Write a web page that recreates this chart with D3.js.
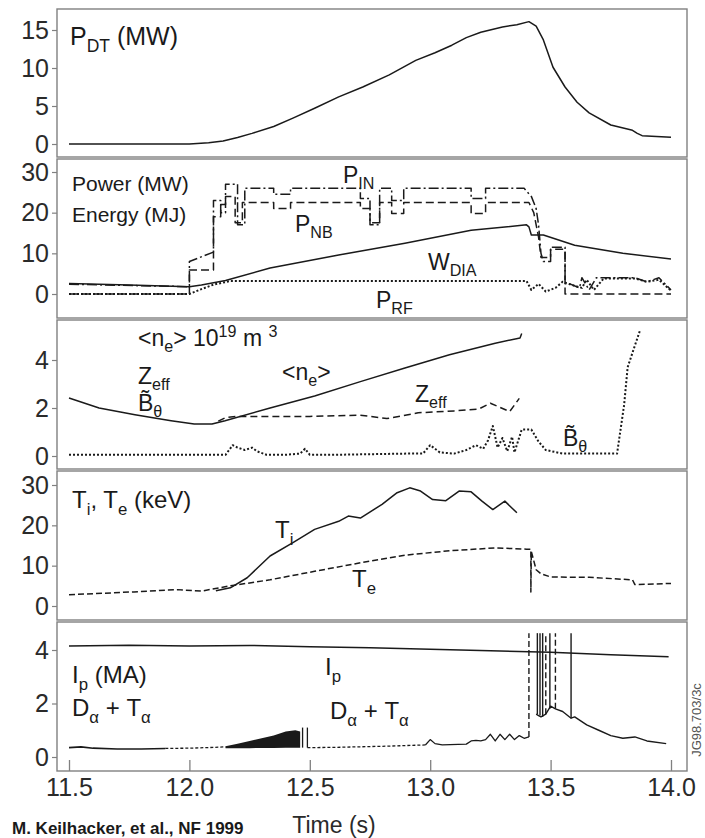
<!DOCTYPE html>
<html><head><meta charset="utf-8">
<script src="https://cdn.jsdelivr.net/npm/d3@7"></script>
<style>body{margin:0;background:#fff}</style>
</head><body><svg id="c" width="705" height="838"></svg>
<script>
// ---------- DATA ----------
const timeTicks = [11.5, 12.0, 12.5, 13.0, 13.5, 14.0];
const tickLabels = ["11.5", "12.0", "12.5", "13.0", "13.5", "14.0"];
const p1Ticks = [0, 5, 10, 15];
const p2Ticks = [0, 10, 20, 30];
const p3Ticks = [0, 2, 4];
const p4Ticks = [0, 10, 20, 30];
const p5Ticks = [0, 2, 4];

// Panel 1: P_DT (MW)
const pdt = [[11.5,0],[11.8,0],[12.0,0],[12.08,0.15],[12.14,0.4],[12.2,0.85],[12.26,1.4],[12.35,2.3],[12.43,3.4],[12.52,4.7],[12.62,6.2],[12.72,7.5],[12.83,9.1],[12.94,11.0],[13.02,12.0],[13.09,13.0],[13.15,14.0],[13.21,14.7],[13.3,15.4],[13.36,15.7],[13.41,16.1],[13.44,15.5],[13.47,13.7],[13.51,10.1],[13.56,7.5],[13.61,5.5],[13.66,4.1],[13.75,2.5],[13.84,1.8],[13.86,1.4],[13.88,1.1],[13.94,1.0],[14.0,0.9]];

// Panel 2: Power (MW) / Energy (MJ)
const wdia = [[11.5,2.6],[11.75,2.2],[12.0,1.8],[12.05,2.2],[12.15,3.3],[12.335,6.4],[12.62,9.6],[12.895,12.5],[13.17,15.7],[13.4,17.0],[13.41,16.5],[13.42,14.5],[13.47,14.5],[13.6,12],[13.8,10],[14.0,8.6]];
const pin = [[11.5,2.4],[12.0,1.8],[12.0,8.0],[12.10,10.3],[12.10,23],[12.13,23],[12.13,20],[12.15,20],[12.15,27],[12.20,27],[12.20,17],[12.23,17],[12.23,26],[12.35,26],[12.35,24.5],[12.42,24.5],[12.42,26],[12.71,26],[12.71,23.5],[12.75,23.5],[12.75,17],[12.79,17],[12.79,26],[12.84,26],[12.84,23],[12.89,23],[12.89,26],[13.17,26],[13.17,23.5],[13.23,23.5],[13.23,26],[13.39,26],[13.42,24],[13.44,21],[13.45,17],[13.46,10],[13.47,8],[13.50,8],[13.50,11.5],[13.56,11.5],[13.56,2.5],[13.58,2.5],[13.62,1.5],[13.63,4],[13.66,1],[13.69,4],[13.75,4],[13.85,4],[13.9,3],[13.95,4],[14.0,1]];
const pnb = [[11.5,0],[12.0,0],[12.0,5.9],[12.10,5.9],[12.10,19],[12.13,19],[12.13,22],[12.15,22],[12.15,24],[12.19,24],[12.19,17.5],[12.22,17.5],[12.22,22.5],[12.35,22.5],[12.35,21],[12.42,21],[12.42,22.5],[12.71,22.5],[12.71,21],[12.75,21],[12.75,17.5],[12.79,17.5],[12.79,22.5],[12.84,22.5],[12.84,19.8],[12.89,19.8],[12.89,22.5],[13.17,22.5],[13.17,19.8],[13.23,19.8],[13.23,22.5],[13.41,22.5],[13.43,20],[13.45,14],[13.46,9],[13.5,9],[13.5,11],[13.56,11],[13.56,0],[14.0,0]];
const prf = [[11.5,0],[12.0,0],[12.05,1.2],[12.1,2.3],[12.17,3.2],[13.4,3.2],[13.42,1],[13.45,2.5],[13.48,0.6],[13.52,1.5],[13.55,3],[13.6,2],[13.63,1.5],[13.65,3.5],[13.68,1],[13.72,3.8],[13.85,3.8],[13.9,3],[13.95,3.5],[14.0,0.8]];

// Panel 3: <n_e>, Z_eff, B~theta
const ne = [[11.5,2.42],[11.625,2.0],[11.774,1.72],[11.924,1.47],[12.02,1.33],[12.094,1.33],[12.148,1.47],[12.335,2.0],[12.52,2.5],[12.71,3.1],[12.895,3.67],[13.08,4.22],[13.27,4.7],[13.373,4.92],[13.38,5.1]];
const zeff = [[12.12,1.45],[12.15,1.6],[12.2,1.65],[12.5,1.65],[12.71,1.7],[12.82,1.56],[12.95,1.8],[13.1,1.88],[13.2,1.95],[13.25,2.2],[13.33,1.85],[13.37,2.4]];
const btheta = [[11.5,0.05],[12.15,0.05],[12.18,0.45],[12.2,0.35],[12.23,0.25],[12.26,0.35],[12.28,0.2],[12.32,0.05],[12.4,0.05],[12.46,0.1],[12.48,0.3],[12.5,0.05],[12.6,0.05],[12.9,0.1],[12.97,0.1],[13.0,0.45],[13.04,0.15],[13.1,0.1],[13.15,0.25],[13.19,0.45],[13.22,0.3],[13.24,0.65],[13.26,1.25],[13.28,0.35],[13.3,0.75],[13.32,0.2],[13.34,0.8],[13.35,0.15],[13.38,1.1],[13.42,1.1],[13.45,0.6],[13.48,0.25],[13.55,0.1],[13.776,0.1],[13.805,2.1],[13.82,3.7],[13.87,5.2]];

// Panel 4: T_i, T_e (keV)
const ti = [[12.11,3.8],[12.17,4.5],[12.24,7.0],[12.335,12.4],[12.43,15.7],[12.52,19.0],[12.62,21.0],[12.66,22.3],[12.71,21.8],[12.80,25.2],[12.86,28.0],[12.915,29.3],[12.96,28.5],[13.01,26.4],[13.065,26.1],[13.12,28.5],[13.17,28.3],[13.215,26.0],[13.26,23.9],[13.31,26.0],[13.36,23.1]];
const te = [[11.5,2.8],[11.77,3.5],[11.95,4.06],[12.05,3.7],[12.16,4.9],[12.335,6.5],[12.52,8.6],[12.71,10.7],[12.895,12.6],[13.08,13.7],[13.27,14.4],[13.4,14.1],[13.418,14.1],[13.418,3.5],[13.42,13.5],[13.44,9],[13.46,8],[13.5,7.2],[13.66,7.1],[13.84,6.5],[13.85,5.3],[14.0,5.6]];

// Panel 5: I_p (MA), D_alpha + T_alpha
const ip = [[11.5,4.15],[11.75,4.18],[12.0,4.15],[12.25,4.17],[12.5,4.12],[12.75,4.08],[13.0,4.03],[13.25,3.97],[13.5,3.92],[13.75,3.82],[13.99,3.75]];
const daSolid1 = [[11.5,0.35],[11.55,0.38],[11.6,0.33],[11.7,0.3],[11.8,0.3],[11.9,0.32]];
const daDash1 = [[11.9,0.32],[12.0,0.33],[12.1,0.36],[12.15,0.38]];
const daBandT = [12.15,12.2,12.25,12.3,12.35,12.4,12.44,12.46];
const daBandHi = [0.4,0.5,0.6,0.7,0.8,0.95,1.0,0.95];
const daBandLo = [0.33,0.33,0.33,0.34,0.34,0.35,0.35,0.35];
const daBurstT = [12.47, 12.49];
const daBurstTop = [1.1, 1.1];
const daDash2 = [[12.49,0.35],[12.6,0.36],[12.8,0.4],[12.98,0.45]];
const daSolid2 = [[12.98,0.45],[13.0,0.65],[13.02,0.5],[13.05,0.45],[13.15,0.48],[13.17,0.6],[13.19,0.62],[13.21,0.6],[13.23,0.65],[13.25,0.85],[13.27,0.6],[13.29,0.85],[13.31,0.65],[13.33,0.85],[13.35,0.65],[13.37,0.8],[13.39,0.7],[13.41,0.75]];
const daAfter = [[13.44,1.6],[13.45,1.55],[13.46,1.5],[13.48,1.6],[13.5,1.9],[13.52,1.8],[13.55,1.7],[13.585,1.45],[13.6,1.5],[13.65,1.2],[13.7,1.0],[13.75,0.8],[13.8,0.7],[13.85,0.75],[13.9,0.6],[13.98,0.5]];
const elmSolidT = [13.445, 13.456, 13.467, 13.497, 13.585];
const elmSolidBase = [1.6, 1.55, 1.5, 1.8, 1.45];
const elmDashT = [13.41, 13.48, 13.52];
const elmDashBase = [0.75, 1.6, 1.8];
const elmTop = 4.63;

// ---------- LAYOUT ----------
const svg = d3.select("#c");
const FONT = "'Liberation Sans', Arial, Helvetica, sans-serif";
const INK = "#1a1a1a";
const FRAME = "#808080";
const xL = 57, xR = 687;
const x = d3.scaleLinear().domain([11.5, 14.0]).range([69, 671]);

const panels = [
  {top: 9,   bot: 157, dom: [0, 15], rng: [144, 30],  ticks: p1Ticks},
  {top: 159, bot: 318, dom: [0, 30], rng: [294, 172], ticks: p2Ticks},
  {top: 320, bot: 469, dom: [0, 4],  rng: [456, 360], ticks: p3Ticks},
  {top: 471, bot: 620, dom: [0, 30], rng: [606, 485], ticks: p4Ticks},
  {top: 622, bot: 771, dom: [0, 4],  rng: [757, 650], ticks: p5Ticks}
];
panels.forEach((p, i) => {
  p.y = d3.scaleLinear().domain(p.dom).range(p.rng);
  svg.append("clipPath").attr("id", "cp" + i).append("rect")
    .attr("x", xL).attr("y", p.top).attr("width", xR - xL).attr("height", p.bot - p.top);
  p.g = svg.append("g").attr("clip-path", `url(#cp${i})`);
  svg.append("rect").attr("x", xL).attr("y", p.top).attr("width", xR - xL).attr("height", p.bot - p.top)
    .attr("fill", "none").attr("stroke", FRAME).attr("stroke-width", 1.4);
  const ax = svg.append("g").attr("transform", `translate(${xL},0)`)
    .call(d3.axisLeft(p.y).tickValues(p.ticks).tickSize(5).tickPadding(3).tickFormat(d3.format("d")));
  ax.select(".domain").remove();
  ax.selectAll("line").attr("stroke", FRAME).attr("stroke-width", 1.2);
  ax.selectAll("text").attr("font-family", FONT).attr("font-size", 25).attr("fill", "#2a2a2a");
});

// bottom time axis (ticks inward)
const xa = svg.append("g").attr("transform", `translate(0,${panels[4].bot})`)
  .call(d3.axisBottom(x).tickValues(timeTicks).tickSize(-11).tickPadding(7)
    .tickFormat((d, i) => tickLabels[i]));
xa.select(".domain").remove();
xa.selectAll("line").attr("stroke", FRAME).attr("stroke-width", 1.3);
xa.selectAll("text").attr("font-family", FONT).attr("font-size", 25).attr("fill", "#2a2a2a");

function draw(p, data, dash, w) {
  const ln = d3.line().x(d => x(d[0])).y(d => p.y(d[1]));
  p.g.append("path").datum(data).attr("d", ln).attr("fill", "none")
    .attr("stroke", INK).attr("stroke-width", w || 1.5)
    .attr("stroke-dasharray", dash || null).attr("stroke-linejoin", "round");
}
const [P1, P2, P3, P4, P5] = panels;
draw(P1, pdt);
draw(P2, wdia);
draw(P2, pin, "10,3,2,3", 1.5);
draw(P2, pnb, "8,4", 1.5);
draw(P2, prf, "2,2", 2);
draw(P3, ne);
draw(P3, zeff, "7,4", 1.5);
draw(P3, btheta, "2,2", 2);
draw(P4, ti);
draw(P4, te, "6,3", 1.5);
draw(P5, ip);
draw(P5, daSolid1, null, 1.6);
draw(P5, daDash1, "3,2", 1.3);
P5.g.append("path").datum(daBandT.map((t, i) => [t, daBandLo[i], daBandHi[i]]))
  .attr("d", d3.area().x(d => x(d[0])).y0(d => P5.y(d[1])).y1(d => P5.y(d[2])))
  .attr("fill", INK);
daBurstT.forEach((t, i) => draw(P5, [[t, 0.35], [t, daBurstTop[i]]], null, 1.3));
draw(P5, daDash2, "3,2", 1.3);
draw(P5, daSolid2, null, 1.3);
draw(P5, daAfter, null, 1.4);
elmSolidT.forEach((t, i) => draw(P5, [[t, elmSolidBase[i]], [t, elmTop]], null, 1.4));
elmDashT.forEach((t, i) => draw(P5, [[t, elmDashBase[i]], [t, elmTop]], "6,3", 1.4));

// ---------- TEXT ----------
function label(px, py, parts, size) {
  const t = svg.append("text").attr("x", px).attr("y", py)
    .attr("font-family", FONT).attr("font-size", size).attr("fill", INK);
  let off = 0;
  parts.forEach(([s, k]) => {
    const target = k === "sub" ? size * 0.28 : k === "sup" ? -size * 0.4 : 0;
    t.append("tspan").attr("dy", target - off)
      .attr("font-size", k === "n" ? size : size * 0.7).text(s);
    off = target;
  });
  return t;
}
label(70, 45, [["P", "n"], ["DT", "sub"], [" (MW)", "n"]], 25);
label(72, 191, [["Power (MW)", "n"]], 21);
label(72, 222, [["Energy (MJ)", "n"]], 21);
label(343, 183, [["P", "n"], ["IN", "sub"]], 23);
label(295, 232, [["P", "n"], ["NB", "sub"]], 23);
label(428, 270, [["W", "n"], ["DIA", "sub"]], 23);
label(376, 308, [["P", "n"], ["RF", "sub"]], 23);

label(138, 346, [["<n", "n"], ["e", "sub"], ["> 10", "n"], ["19", "sup"], [" m ", "n"], ["3", "sup"]], 23);
label(138, 384, [["Z", "n"], ["eff", "sub"]], 23);
label(138, 411, [["B\u0303", "n"], ["\u03b8", "sub"]], 23);
label(282, 380, [["<n", "n"], ["e", "sub"], [">", "n"]], 23);
label(415, 402, [["Z", "n"], ["eff", "sub"]], 23);
label(563, 446, [["B\u0303", "n"], ["\u03b8", "sub"]], 23);

label(72, 508, [["T", "n"], ["i", "sub"], [", T", "n"], ["e", "sub"], [" (keV)", "n"]], 24);
label(275, 538, [["T", "n"], ["i", "sub"]], 24);
label(352, 587, [["T", "n"], ["e", "sub"]], 24);

label(72, 683, [["I", "n"], ["p", "sub"], [" (MA)", "n"]], 24);
label(72, 716, [["D", "n"], ["\u03b1", "sub"], [" + T", "n"], ["\u03b1", "sub"]], 24);
label(325, 675, [["I", "n"], ["p", "sub"]], 24);
label(330, 719, [["D", "n"], ["\u03b1", "sub"], [" + T", "n"], ["\u03b1", "sub"]], 24);

svg.append("text").attr("x", 334).attr("y", 833).attr("text-anchor", "middle")
  .attr("font-family", FONT).attr("font-size", 23).attr("fill", "#2a2a2a").text("Time (s)");
svg.append("text").attr("x", 12).attr("y", 834)
  .attr("font-family", FONT).attr("font-size", 17).attr("font-weight", "bold").attr("fill", INK)
  .text("M. Keilhacker, et al., NF 1999");
svg.append("text").attr("transform", "translate(701,720) rotate(-90)").attr("text-anchor", "middle")
  .attr("font-family", FONT).attr("font-size", 13).attr("fill", "#555").text("JG98.703/3c");
</script></body></html>
